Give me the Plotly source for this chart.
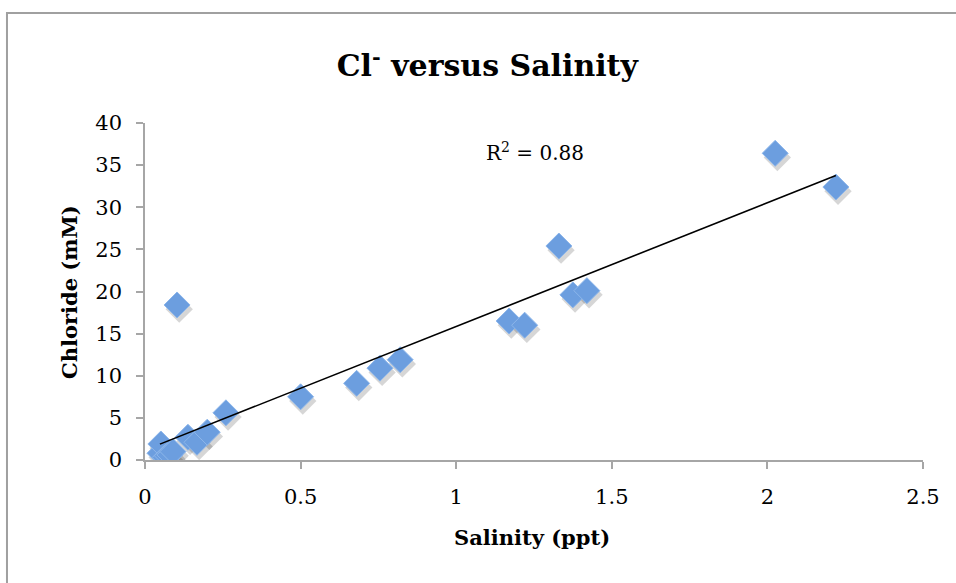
import numpy as np
import plotly.graph_objects as go

# Salinity (ppt) and chloride (mM) measurements
salinity = [0.048, 0.051, 0.065, 0.072, 0.080, 0.090, 0.103, 0.138, 0.167, 0.200,
            0.260, 0.500, 0.680, 0.755, 0.820, 1.170, 1.220, 1.330, 1.375, 1.420,
            2.025, 2.220]
chloride = [0.8, 1.9, 0.3, 0.5, 0.6, 1.0, 18.4, 2.7, 2.1, 3.3,
            5.6, 7.5, 9.1, 10.9, 11.9, 16.5, 16.0, 25.4, 19.6, 20.1,
            36.4, 32.4]

x_ticks = [0, 0.5, 1, 1.5, 2, 2.5]
x_tick_text = ["0", "0.5", "1", "1.5", "2", "2.5"]
y_ticks = [0, 5, 10, 15, 20, 25, 30, 35, 40]

r_squared_label = "R<sup>2</sup> = 0.88"

# Linear least-squares trend line across the data range
slope, intercept = np.polyfit(salinity, chloride, 1)
x_fit = np.array([min(salinity), max(salinity)])
y_fit = slope * x_fit + intercept

serif = "DejaVu Serif"

fig = go.Figure()

# soft drop shadow beneath each marker
fig.add_trace(go.Scatter(
    x=np.array(salinity) + 0.007, y=np.array(chloride) - 0.5,
    mode="markers",
    marker=dict(symbol="diamond", size=21, color="rgba(0,0,0,0.16)",
                line=dict(width=0)),
    hoverinfo="skip", showlegend=False,
))

fig.add_trace(go.Scatter(
    x=salinity, y=chloride, mode="markers",
    marker=dict(symbol="diamond", size=20, color="#6c9edf",
                line=dict(color="#8db6ea", width=1)),
    showlegend=False,
))

fig.add_trace(go.Scatter(
    x=x_fit, y=y_fit, mode="lines",
    line=dict(color="black", width=1.6),
    showlegend=False, hoverinfo="skip",
))

fig.add_annotation(
    x=1.254, y=36.6, xref="x", yref="y", text=r_squared_label, showarrow=False,
    font=dict(family=serif, size=20, color="black"),
)

# axis titles
fig.add_annotation(
    x=0.497, y=-0.2285, xref="paper", yref="paper", xanchor="center",
    yanchor="middle", text="<b>Salinity (ppt)</b>", showarrow=False,
    font=dict(family=serif, size=21, color="black"),
)
fig.add_annotation(
    x=-0.0977, y=0.4985, xref="paper", yref="paper", xanchor="center",
    yanchor="middle", text="<b>Chloride (mM)</b>", showarrow=False,
    textangle=-90, font=dict(family=serif, size=21, color="black"),
)

# outer chart frame
fig.add_shape(type="rect", xref="paper", yref="paper",
              x0=-0.1774, x1=1.2, y0=-0.6, y1=1.3264,
              line=dict(color="#a0a0a0", width=2), fillcolor="rgba(0,0,0,0)")

fig.update_layout(
    width=956, height=583,
    margin=dict(l=145, r=33, t=123, b=123),
    paper_bgcolor="white", plot_bgcolor="white",
    title=dict(text="<b>Cl<sup>-</sup> versus Salinity</b>",
               x=0.44, xanchor="center", xref="paper",
               y=0.887, yanchor="middle",
               font=dict(family=serif, size=30, color="black")),
    xaxis=dict(range=[0, 2.5], tickvals=x_ticks, ticktext=x_tick_text,
               showgrid=False, zeroline=False, showline=True,
               linecolor="#a6a6a6", linewidth=1.5,
               ticks="outside", ticklen=7, tickcolor="#a6a6a6", tickwidth=1.5,
               ticklabelstandoff=10,
               tickfont=dict(family=serif, size=21, color="black")),
    yaxis=dict(range=[0, 40], tickvals=y_ticks,
               showgrid=False, zeroline=False, showline=True,
               linecolor="#a6a6a6", linewidth=1.5,
               ticks="outside", ticklen=7, tickcolor="#a6a6a6", tickwidth=1.5,
               ticklabelstandoff=10,
               tickfont=dict(family=serif, size=21, color="black")),
)

fig.write_html("out.html")
